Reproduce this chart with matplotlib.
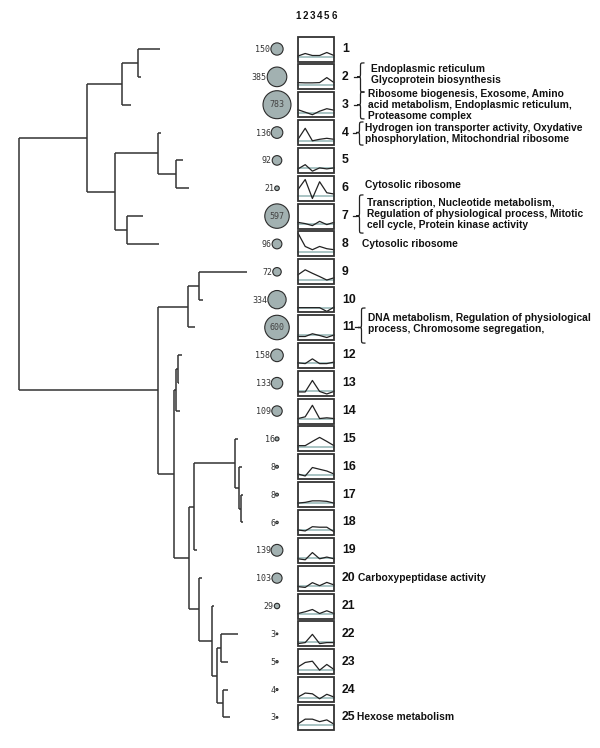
import numpy as np
import matplotlib.pyplot as plt
from matplotlib.path import Path
from matplotlib.patches import PathPatch, Rectangle

plt.rcParams['font.family'] = ['Liberation Sans', 'DejaVu Sans']

# --- data -------------------------------------------------------------------
clusters = list(range(1, 26))
gene_counts = [150, 385, 783, 136, 92, 21, 597, 96, 72, 334, 600, 158, 133,
               109, 16, 8, 8, 6, 139, 103, 29, 3, 5, 4, 3]

# mean expression profile per cluster over the 6 conditions
# (fraction of the box height, baseline at BASE)
profiles = [
    [0.22, 0.32, 0.24, 0.24, 0.36, 0.24],
    [0.27, 0.26, 0.26, 0.27, 0.47, 0.27],
    [0.30, 0.20, 0.10, 0.24, 0.34, 0.28],
    [0.23, 0.67, 0.17, 0.23, 0.27, 0.23],
    [0.16, 0.33, 0.07, 0.20, 0.16, 0.20],
    [0.45, 0.85, 0.09, 0.76, 0.32, 0.27],
    [0.25, 0.20, 0.12, 0.29, 0.16, 0.25],
    [0.93, 0.40, 0.27, 0.40, 0.31, 0.27],
    [0.38, 0.58, 0.44, 0.31, 0.17, 0.26],
    [0.18, 0.18, 0.18, 0.18, 0.03, 0.20],
    [0.14, 0.14, 0.25, 0.18, 0.10, 0.20],
    [0.20, 0.17, 0.36, 0.17, 0.17, 0.23],
    [0.15, 0.15, 0.61, 0.17, 0.07, 0.17],
    [0.20, 0.27, 0.73, 0.20, 0.23, 0.20],
    [0.23, 0.23, 0.40, 0.56, 0.40, 0.23],
    [0.21, 0.13, 0.47, 0.40, 0.33, 0.21],
    [0.16, 0.19, 0.25, 0.25, 0.23, 0.16],
    [0.20, 0.16, 0.33, 0.31, 0.31, 0.13],
    [0.16, 0.12, 0.41, 0.16, 0.23, 0.16],
    [0.16, 0.13, 0.32, 0.20, 0.33, 0.23],
    [0.20, 0.27, 0.36, 0.20, 0.31, 0.20],
    [0.11, 0.15, 0.48, 0.11, 0.15, 0.15],
    [0.29, 0.47, 0.52, 0.16, 0.39, 0.19],
    [0.20, 0.36, 0.33, 0.13, 0.31, 0.20],
    [0.24, 0.43, 0.43, 0.33, 0.40, 0.23],
]
BASE = 0.18
conditions = ['1', '2', '3', '4', '5', '6']

# dendrogram: leaf branch tips and merges (node, child a, child b, merge level)
leaf_tip = [160, 141, 131, 161, 183, 189, 143, 159, 247, 203, 195, 182, 179,
            180, 238, 242, 243, 243, 197, 202, 214, 238, 228, 228, 230]
merges = [
    ('n1', 1, 2, 138), ('n2', 'n1', 3, 122), ('n3', 5, 6, 176),
    ('n4', 4, 'n3', 158), ('n5', 7, 8, 127), ('n6', 'n4', 'n5', 115),
    ('n7', 'n2', 'n6', 87), ('n8', 9, 10, 199), ('n9', 'n8', 11, 188),
    ('n10', 12, 13, 178), ('n11', 'n10', 14, 176), ('n12', 17, 18, 241),
    ('n13', 16, 'n12', 239), ('n14', 15, 'n13', 235), ('n15', 'n14', 19, 194),
    ('n16', 22, 23, 221), ('n17', 24, 25, 223), ('n18', 'n16', 'n17', 217),
    ('n19', 21, 'n18', 212), ('n20', 20, 'n19', 199), ('n21', 'n15', 'n20', 189),
    ('n22', 'n11', 'n21', 174), ('n23', 'n9', 'n22', 158), ('root', 'n7', 'n23', 19),
]

# GO annotations: cluster -> (text, brace extent above/below row, brace tip x, text x, dy)
annotations = {
    2: ("Endoplasmic reticulum\nGlycoprotein biosynthesis", (0.50, 0.55), 357, 371, -0.08),
    3: ("Ribosome biogenesis, Exosome, Amino\nacid metabolism, Endoplasmic reticulum,\nProteasome complex",
        (0.46, 0.51), 357, 368, 0.0),
    4: ("Hydrogen ion transporter activity, Oxydative\nphosphorylation, Mitochondrial ribosome",
        (0.38, 0.45), 356, 365, 0.03),
    6: ("Cytosolic ribosome", None, 0, 365, -0.12),
    7: ("Transcription, Nucleotide metabolism,\nRegulation of physiological process, Mitotic\ncell cycle, Protein kinase activity",
        (0.76, 0.61), 356, 367, -0.08),
    8: ("Cytosolic ribosome", None, 0, 362, 0.0),
    11: ("DNA metabolism, Regulation of physiological\nprocess, Chromosome segregation,",
         (0.70, 0.56), 358, 368, -0.16),
    20: ("Carboxypeptidase activity", None, 0, 358, 0.0),
    25: ("Hexose metabolism", None, 0, 357, 0.0),
}

# --- layout -----------------------------------------------------------------
ROW_PX = 27.85
fig = plt.figure(figsize=(6, 7.48), dpi=100)
ax = fig.add_axes([0, 0, 1, 1])
ax.set_xlim(0, 600)
ax.set_ylim(1 + (748 - 49) / ROW_PX, 1 - 49 / ROW_PX)
ax.axis('off')

line_kw = dict(color='#333333', lw=1.1, solid_capstyle='butt')

# dendrogram
pos = {c: (tip, c) for c, tip in zip(clusters, leaf_tip)}  # name -> (x, y)
for name, a, b, level in merges:
    (xa, ya), (xb, yb) = pos[a], pos[b]
    ax.plot([level, level], [ya, yb], **line_kw)
    ax.plot([level, xa], [ya, ya], **line_kw)
    ax.plot([level, xb], [yb, yb], **line_kw)
    pos[name] = (level, (ya + yb) / 2)

# cluster size circles
cx = 277
diam = np.sqrt(gene_counts)  # pixels
ax.scatter([cx] * 25, clusters, s=(diam * 0.72) ** 2, c='#a2b1b1',
           edgecolors='#2b2b2b', linewidths=0.8, zorder=3)
for c, n, d in zip(clusters, gene_counts, diam):
    if n >= 500:
        ax.text(cx, c, str(n), ha='center', va='center', fontsize=6,
                family='DejaVu Sans Mono', color='#444444', zorder=4)
    else:
        ax.text(cx - d / 2 - 0.5, c + 0.02, str(n), ha='right', va='center',
                fontsize=6, family='DejaVu Sans Mono', color='#333333')

# profile boxes
bx0, bw = 298, 36
bh = 25 / ROW_PX
xs = bx0 + np.linspace(0, bw, 6)
for c, prof in zip(clusters, profiles):
    bottom = c + bh / 2
    ys = bottom - np.array(prof) * bh
    yb = bottom - BASE * bh
    ax.plot([bx0, bx0 + bw], [yb, yb], color='#a9c4c4', lw=1.4, zorder=2)
    ax.plot(xs, ys, color='#222222', lw=0.9, zorder=3)
    ax.add_patch(Rectangle((bx0, c - bh / 2), bw, bh, fill=False,
                           edgecolor='#333333', lw=1.3, zorder=4))
    ax.text(342, c, str(c), ha='left', va='center', fontsize=8.8,
            fontweight='bold', color='#111111')

for x, lab in zip(xs, conditions):
    ax.text(x, 1 - 33 / ROW_PX, lab, ha='center', va='center', fontsize=7,
            fontweight='bold', color='#111111')


def brace(ax, xt, y0, ym, y1):
    xs_, xe = xt + 3.5, xt + 7.5
    r = 0.14
    verts = [(xe, y0), (xs_, y0), (xs_, y0), (xs_, y0 + r),
             (xs_, ym - r), (xs_, ym), (xs_, ym), (xt, ym),
             (xs_, ym), (xs_, ym), (xs_, ym + r),
             (xs_, y1 - r), (xs_, y1), (xs_, y1), (xe, y1)]
    codes = [Path.MOVETO, Path.CURVE4, Path.CURVE4, Path.CURVE4,
             Path.LINETO, Path.CURVE4, Path.CURVE4, Path.CURVE4,
             Path.CURVE4, Path.CURVE4, Path.CURVE4,
             Path.LINETO, Path.CURVE4, Path.CURVE4, Path.CURVE4]
    ax.add_patch(PathPatch(Path(verts, codes), fill=False,
                           edgecolor='#222222', lw=0.9))
    ax.plot([xt - 3.5, xt], [ym, ym], color='#222222', lw=0.9)


for c, (txt, ext, bx, tx, dy) in annotations.items():
    if ext is not None:
        brace(ax, bx, c - ext[0], c, c + ext[1])
    ax.text(tx, c + dy, txt, ha='left', va='center', fontsize=7.4,
            fontweight='bold', linespacing=1.12, color='#111111')

plt.savefig('out.png', dpi=100)
